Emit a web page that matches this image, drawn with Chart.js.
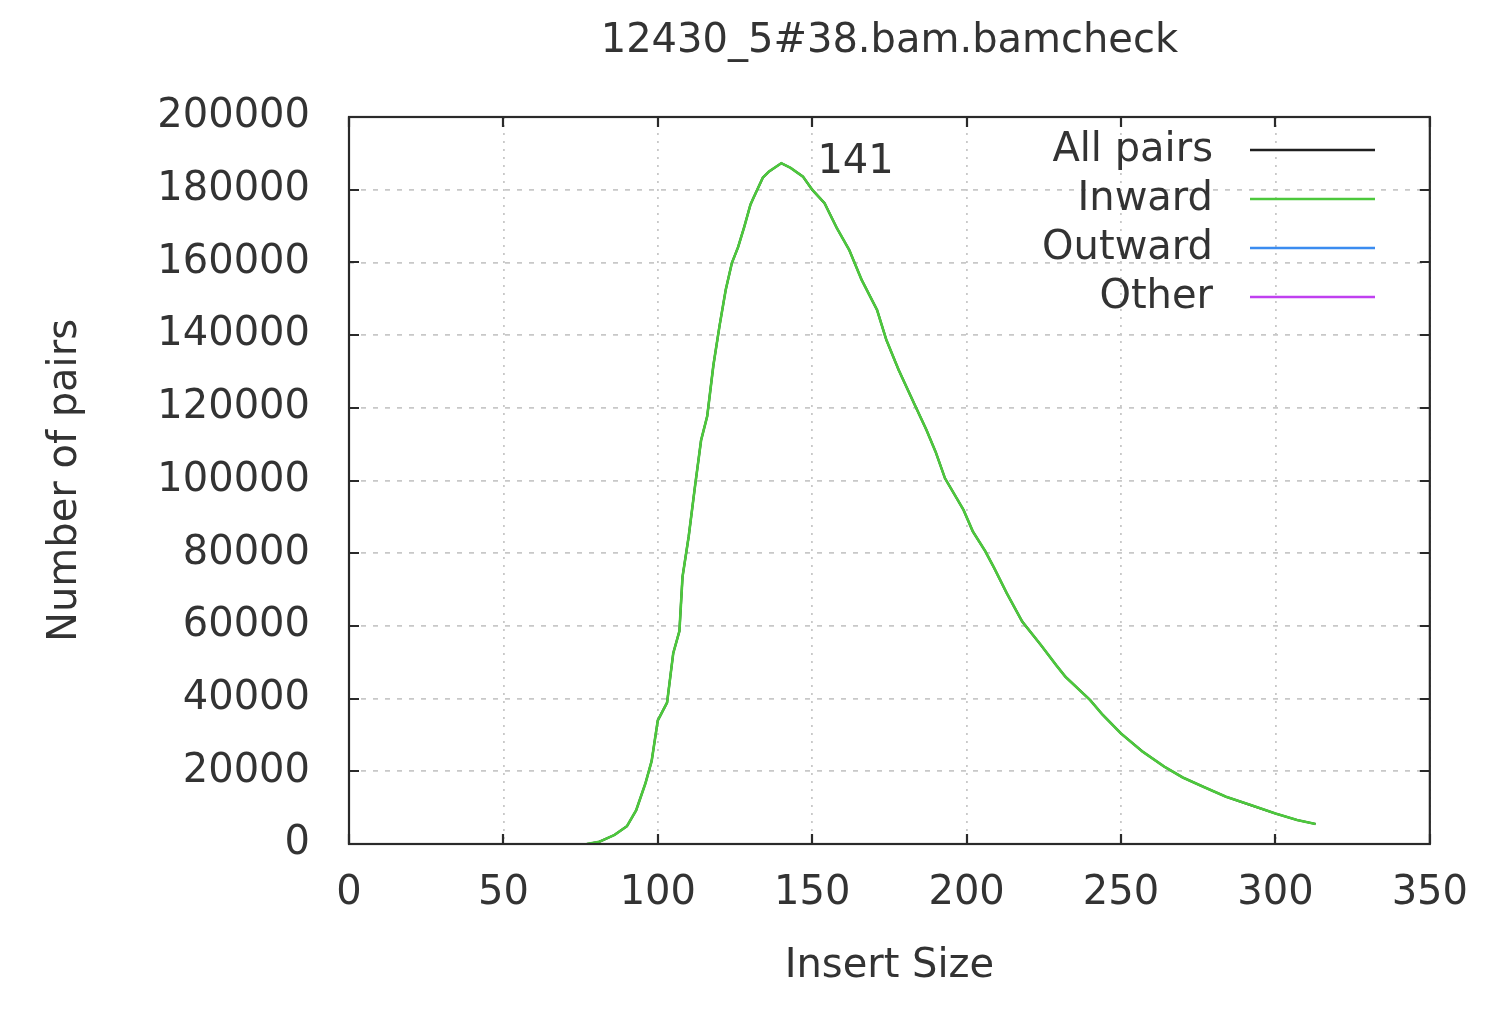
<!DOCTYPE html>
<html>
<head>
<meta charset="utf-8">
<script src="https://cdn.jsdelivr.net/npm/chart.js@4/dist/chart.umd.min.js"></script>
<style>
html,body{margin:0;padding:0;background:#fff;}
#wrap{width:1494px;height:1022px;position:relative;}
</style>
</head>
<body>
<div id="wrap"><canvas id="c" width="1494" height="1022"></canvas></div>
<script>
const chartTitle = "12430_5#38.bam.bamcheck";
const xTitle = "Insert Size";
const yTitle = "Number of pairs";
const seriesLabels = ["All pairs", "Inward", "Outward", "Other"];
const seriesColors = ["#202020", "#4cc83c", "#3b8cf0", "#c040f0"];
const peakLabel = "141";
const peakX = 141;

// Insert sizes and pair counts
const insertSize = [77, 81, 86, 90, 93, 96, 98, 100, 103, 105, 107, 108, 110, 112, 114, 116, 118, 120, 122, 124, 126, 128, 130, 131, 134, 136, 140, 143, 147, 150, 154, 158, 162, 166, 171, 174, 178, 183, 187, 190, 193, 199, 202, 206, 209, 213, 218, 224, 229, 232, 240, 244, 250, 257, 264, 270, 277, 284, 292, 300, 307, 313];
const inwardPairs = [0, 600, 2500, 4900, 9300, 16700, 22800, 34000, 38900, 52500, 58600, 73500, 84600, 98100, 111000, 117700, 131700, 142600, 152500, 159900, 164200, 169800, 175900, 177800, 183300, 185000, 187300, 186000, 183600, 180000, 176300, 169400, 163400, 155200, 146900, 138700, 130400, 121200, 113900, 107800, 100600, 91900, 86000, 80600, 75800, 69000, 61200, 54800, 49200, 46000, 39600, 35600, 30400, 25400, 21300, 18300, 15600, 13000, 10700, 8400, 6600, 5500];
const allPairs = inwardPairs.slice();
const outwardPairs = [];
const otherPairs = [];

const xTicks = [0, 50, 100, 150, 200, 250, 300, 350];
const yTicks = [0, 20000, 40000, 60000, 80000, 100000, 120000, 140000, 160000, 180000, 200000];

const FONT = "'DejaVu Sans', sans-serif";
const TXT = "#333333";

function pts(xs, ys) { return ys.map((y, i) => ({x: xs[i], y: y})); }

const frameAndTicks = {
  id: 'frameAndTicks',
  afterDatasetsDraw(chart) {
    const {ctx, chartArea: a, scales} = chart;
    ctx.save();
    ctx.strokeStyle = "#2a2a2a";
    ctx.lineWidth = 2.2;
    const L = 10;
    ctx.beginPath();
    xTicks.forEach(v => {
      const px = Math.round(scales.x.getPixelForValue(v));
      ctx.moveTo(px, a.bottom); ctx.lineTo(px, a.bottom - L);
      ctx.moveTo(px, a.top); ctx.lineTo(px, a.top + L);
    });
    yTicks.forEach(v => {
      const py = Math.round(scales.y.getPixelForValue(v));
      ctx.moveTo(a.left, py); ctx.lineTo(a.left + L, py);
      ctx.moveTo(a.right, py); ctx.lineTo(a.right - L, py);
    });
    ctx.stroke();
    ctx.strokeRect(a.left, a.top, a.right - a.left, a.bottom - a.top);

    // peak label
    const pv = Math.max(...inwardPairs);
    ctx.fillStyle = TXT;
    ctx.font = "40px " + FONT;
    ctx.textAlign = "left";
    ctx.textBaseline = "middle";
    ctx.fillText(peakLabel, scales.x.getPixelForValue(peakX) + 33, scales.y.getPixelForValue(pv) - 1);

    // legend (gnuplot style, top right inside)
    const textRight = 1213, lineL = 1250, lineR = 1375, y0 = 151, dy = 49;
    ctx.textAlign = "right";
    chart.data.datasets.forEach((ds, i) => {
      const y = y0 + i * dy;
      ctx.fillStyle = TXT;
      ctx.fillText(ds.label, textRight, y);
      ctx.strokeStyle = ds.borderColor;
      ctx.lineWidth = 2.5;
      ctx.beginPath();
      ctx.moveTo(lineL, y - 1); ctx.lineTo(lineR, y - 1);
      ctx.stroke();
    });
    ctx.restore();
  }
};

new Chart(document.getElementById('c'), {
  type: 'line',
  data: {
    datasets: [
      {label: seriesLabels[0], data: pts(insertSize, allPairs), borderColor: seriesColors[0], borderWidth: 2.2, pointRadius: 0, tension: 0, order: 3},
      {label: seriesLabels[1], data: pts(insertSize, inwardPairs), borderColor: seriesColors[1], borderWidth: 2.6, pointRadius: 0, tension: 0, order: 0},
      {label: seriesLabels[2], data: outwardPairs, borderColor: seriesColors[2], borderWidth: 2.2, pointRadius: 0, order: 1},
      {label: seriesLabels[3], data: otherPairs, borderColor: seriesColors[3], borderWidth: 2.2, pointRadius: 0, order: 2}
    ]
  },
  options: {
    responsive: false,
    animation: false,
    devicePixelRatio: 1,
    layout: {padding: {left: 0, right: 64, top: 0, bottom: 0}},
    plugins: {
      legend: {display: false},
      tooltip: {enabled: false},
      title: {
        display: true,
        fullSize: false,
        text: chartTitle,
        color: TXT,
        font: {family: FONT, size: 40, weight: 'normal', lineHeight: 1.2},
        padding: {top: 18, bottom: 51}
      }
    },
    scales: {
      x: {
        type: 'linear',
        min: 0, max: 350,
        afterBuildTicks(s) { s.ticks = xTicks.map(v => ({value: v})); },
        afterFit(s) { s.height = 1022 - 844; },
        ticks: {color: TXT, font: {family: FONT, size: 40, lineHeight: 1.2}, padding: 26, maxRotation: 0, autoSkip: false, callback: v => String(v)},
        grid: {color: "#c8c8c8", lineWidth: 1.8, drawTicks: false},
        border: {display: false, dash: [2, 6]},
        title: {display: true, text: xTitle, color: TXT, font: {family: FONT, size: 40, lineHeight: 1.2}, padding: {top: 0, bottom: 31}}
      },
      y: {
        type: 'linear',
        min: 0, max: 200000,
        afterBuildTicks(s) { s.ticks = yTicks.map(v => ({value: v})); },
        afterFit(s) { s.width = 349; },
        ticks: {color: TXT, font: {family: FONT, size: 40, lineHeight: 1.2}, padding: 39, autoSkip: false, callback: v => String(v)},
        grid: {color: "#c8c8c8", lineWidth: 1.8, drawTicks: false},
        border: {display: false, dash: [5, 7]},
        title: {display: true, text: yTitle, color: TXT, font: {family: FONT, size: 40, lineHeight: 1.2}, padding: {top: 42, bottom: 0}}
      }
    }
  },
  plugins: [frameAndTicks]
});
</script>
</body>
</html>
